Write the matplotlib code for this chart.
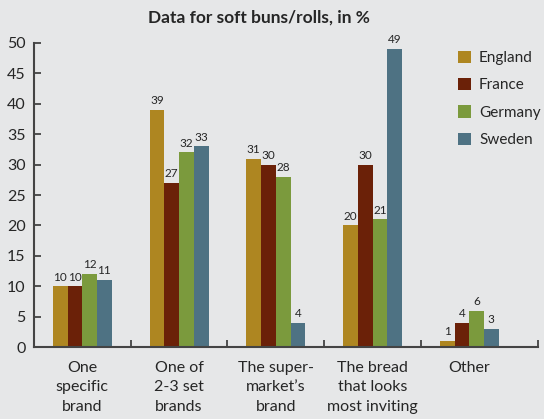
import numpy as np
import matplotlib
matplotlib.use("Agg")
from matplotlib import pyplot as plt
from matplotlib.patches import Patch

categories = ["One\nspecific\nbrand", "One of\n2-3 set\nbrands", "The super-\nmarket’s\nbrand",
              "The bread\nthat looks\nmost inviting", "Other"]
countries = ["England", "France", "Germany", "Sweden"]
england = [10, 39, 31, 20, 1]
france = [10, 27, 30, 30, 4]
germany = [12, 32, 28, 21, 6]
sweden = [11, 33, 4, 49, 3]
series = [england, france, germany, sweden]
bar_colors = ["#ae8621", "#6b2108", "#7b9a3d", "#4e7283"]

bg = "#e6e7e8"
ink = "#262626"
plt.rcParams["font.family"] = ["Lato", "DejaVu Sans"]

fig = plt.figure(figsize=(5.44, 4.19), dpi=100, facecolor=bg)
ax = fig.add_axes([34 / 544, 72 / 419, 504 / 544, 304 / 419], facecolor=bg)

x = np.arange(len(categories))
w = 0.152
for i, (vals, col) in enumerate(zip(series, bar_colors)):
    xs = x + (i - 1.5) * w
    ax.bar(xs, vals, width=w, color=col, zorder=2)
    for xv, v in zip(xs, vals):
        ax.text(xv, v + 0.6, str(v), ha="center", va="bottom", fontsize=8.5, color=ink)

ax.set_ylim(0, 50)
ax.set_xlim(-0.5, 4.71)
ax.set_yticks(range(0, 51, 5))
ax.tick_params(axis="y", direction="in", length=5, width=1.3, color="#444444",
               labelsize=11.5, labelcolor=ink, pad=6)
ax.set_xticks([0.5, 1.5, 2.5, 3.5, 4.71])
ax.set_xticklabels([])
ax.tick_params(axis="x", direction="in", length=5, width=1.3, color="#444444")
for s in ["top", "right"]:
    ax.spines[s].set_visible(False)
for s in ["left", "bottom"]:
    ax.spines[s].set_color("#444444")
    ax.spines[s].set_linewidth(1.5)
    ax.spines[s].set_zorder(3)

for xv, lab in zip(x, categories):
    ax.text(xv, -2.3, lab, ha="center", va="top", fontsize=11.5, color=ink,
            linespacing=1.5, transform=ax.transData)

handles = [Patch(facecolor=c, edgecolor="none", label=n) for c, n in zip(bar_colors, countries)]
fig.legend(handles=handles, loc="upper left", bbox_to_anchor=(447 / 544, 1 - 40 / 419),
           frameon=False, fontsize=11, handlelength=0.85, handleheight=0.85,
           handletextpad=0.55, labelspacing=0.85, labelcolor=ink, borderpad=0.2)

fig.text(259 / 544, 1 - 18 / 419, "Data for soft buns/rolls, in %", ha="center", va="center",
         fontsize=12.5, fontweight="bold", color=ink)

fig.savefig("out.png", dpi=100, facecolor=bg)
